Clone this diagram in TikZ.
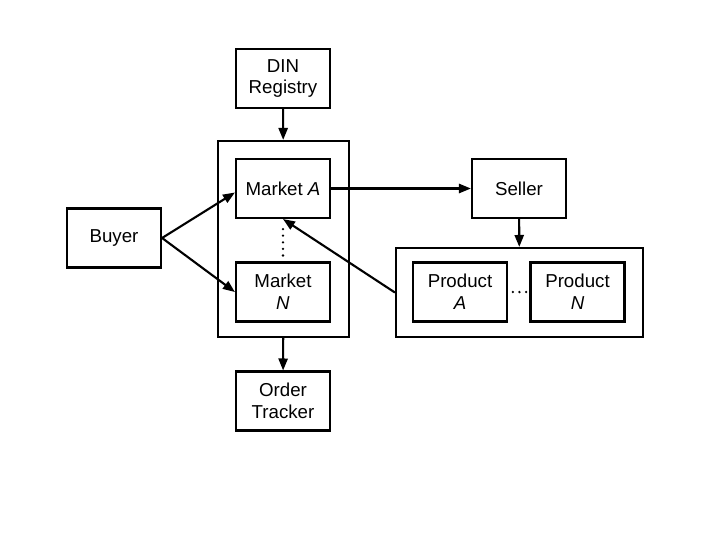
\documentclass[tikz,border=0pt]{standalone}
\usepackage{fontspec}
\setmainfont{Liberation Sans}
\usetikzlibrary{arrows.meta,positioning}

\tikzset{
  blk/.style={draw, line width=1.5pt, minimum width=2.35cm, minimum height=1.475cm,
    align=center, inner sep=1pt, font=\fontsize{13.3}{15.6}\selectfont},
  grp/.style={draw, line width=1.5pt, inner sep=0pt},
  conn/.style={line width=1.5pt, -{Triangle[length=8.5pt,width=6.5pt]}},
  dots/.style={line width=1.8pt, line cap=round, dash pattern=on 0pt off 4.7pt},
}

\begin{document}
\begin{tikzpicture}[x=0.025cm,y=-0.025cm]
  \useasboundingbox (0,0) rectangle (720,540);
  % boxes
  \node[blk] (din) at (283,78.5) {DIN\\Registry};
  \node[grp, minimum width=3.275cm, minimum height=4.9cm] (market) at (283.5,239) {};
  \node[blk] (mktA) at (283,188.5) {Market \textit{A}};
  \node[blk] (mktN) at (283,292) {Market\\\textit{N}};
  \node[blk] (buyer) at (114,238) {Buyer};
  \node[blk] (seller) at (519,188.5) {Seller};
  \node[grp, minimum width=6.175cm, minimum height=2.225cm] (prod) at (519.5,292.5) {};
  \node[blk] (prodA) at (460,292) {Product\\\textit{A}};
  \node[blk] (prodN) at (577.5,292) {Product\\\textit{N}};
  \node[blk] (order) at (283,401) {Order\\Tracker};
  % connectors
  \draw[conn] (din) -- (market);
  \draw[conn] (buyer.east) -- ([yshift=-0.1cm]mktA.west);
  \draw[conn] (buyer.east) -- (mktN.west);
  \draw[conn] (mktA) -- (seller);
  \draw[conn] (seller) -- (prod);
  \draw[conn] (prod.west) -- (mktA.south);
  \draw[conn] (market) -- (order);
  % ellipses
  \draw[dots] ([yshift=-0.25cm]mktA.south) -- ([yshift=0.12cm]mktN.north);
  \draw[dots] ([xshift=0.12cm]prodA.east) -- ([xshift=-0.08cm]prodN.west);
\end{tikzpicture}
\end{document}
